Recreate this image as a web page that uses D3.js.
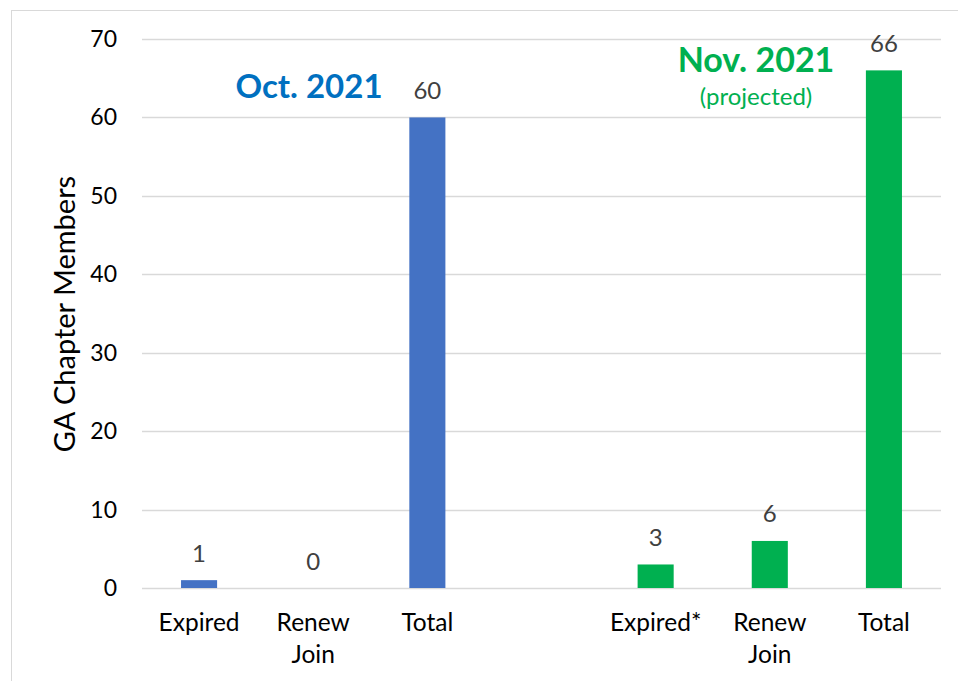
<!DOCTYPE html>
<html>
<head>
<meta charset="utf-8">
<script src="https://cdn.jsdelivr.net/npm/d3@7"></script>
<style>
  html, body { margin: 0; padding: 0; background: #ffffff; }
  svg { display: block; font-family: Lato, "Open Sans", sans-serif; }
</style>
</head>
<body>
<svg id="chart" width="958" height="681"></svg>
<script>
// ---------------------------------------------------------
// GA Chapter Members — Oct. 2021 vs Nov. 2021 (projected)
// ---------------------------------------------------------

// slot keys (one empty slot separates the two months)
const slots      = ["octExp", "octRen", "octTot", "gap", "novExp", "novRen", "novTot"];
const slotLabels = [["Expired"], ["Renew", "Join"], ["Total"], [], ["Expired*"], ["Renew", "Join"], ["Total"]];

const octValues = [1, 0, 60];
const novValues = [3, 6, 66];

const yTicks = [0, 10, 20, 30, 40, 50, 60, 70];

const BLUE  = "#4472c4";
const GREEN = "#00b050";

const bars = [
  ...octValues.map((v, i) => ({ key: slots[i],     value: v, color: BLUE })),
  ...novValues.map((v, i) => ({ key: slots[i + 4], value: v, color: GREEN }))
];

const svg = d3.select("#chart");

// frame
svg.append("rect")
  .attr("x", 11.5).attr("y", 10.5)
  .attr("width", 960).attr("height", 700)
  .attr("fill", "none")
  .attr("stroke", "#d9d9d9")
  .attr("stroke-width", 1);

// -------------------------------------------------------
// SCALES
// -------------------------------------------------------
const x = d3.scaleBand()
  .domain(slots)
  .range([142, 941])
  .paddingInner(0.684)
  .paddingOuter(0.342);

const y = d3.scaleLinear()
  .domain([0, 70])
  .range([588, 39]);

// gridlines
svg.append("g")
  .selectAll("line")
  .data(yTicks)
  .join("line")
  .attr("x1", 142).attr("x2", 941)
  .attr("y1", d => Math.round(y(d)) + 0.5)
  .attr("y2", d => Math.round(y(d)) + 0.5)
  .attr("stroke", "#d9d9d9")
  .attr("stroke-width", 1.5);

// y tick labels
svg.append("g")
  .selectAll("text")
  .data(yTicks)
  .join("text")
  .attr("x", 117)
  .attr("y", d => y(d))
  .attr("dy", "0.35em")
  .attr("text-anchor", "end")
  .style("font-size", "23px")
  .style("fill", "#000")
  .text(d => d);

// y axis title
svg.append("text")
  .attr("transform", "translate(75,314) rotate(-90)")
  .attr("text-anchor", "middle")
  .style("font-size", "29px")
  .style("fill", "#000")
  .text("GA Chapter Members");

// -------------------------------------------------------
// BARS + VALUE LABELS
// -------------------------------------------------------
svg.append("g")
  .selectAll("rect")
  .data(bars)
  .join("rect")
  .attr("x", d => x(d.key))
  .attr("width", x.bandwidth())
  .attr("y", d => y(d.value))
  .attr("height", d => y(0) - y(d.value))
  .attr("fill", d => d.color);

svg.append("g")
  .selectAll("text")
  .data(bars)
  .join("text")
  .attr("x", d => x(d.key) + x.bandwidth() / 2)
  .attr("y", d => y(d.value) - 18.5)
  .attr("text-anchor", "middle")
  .style("font-size", "24px")
  .style("fill", "#404040")
  .text(d => d.value);

// category labels
const cat = svg.append("g")
  .selectAll("text")
  .data(slots.map((s, i) => ({ key: s, lines: slotLabels[i] })))
  .join("text")
  .attr("text-anchor", "middle")
  .style("font-size", "24.5px")
  .style("fill", "#000");

cat.selectAll("tspan")
  .data(d => d.lines.map((t, j) => ({ t, j, key: d.key })))
  .join("tspan")
  .attr("x", d => x(d.key) + x.bandwidth() / 2)
  .attr("y", d => 631 + d.j * 32)
  .text(d => d.t);

// -------------------------------------------------------
// MONTH HEADINGS
// -------------------------------------------------------
svg.append("text")
  .attr("x", 309).attr("y", 98)
  .attr("text-anchor", "middle")
  .style("font-size", "33px")
  .style("font-weight", "bold")
  .style("fill", "#0070c0")
  .text("Oct. 2021");

svg.append("text")
  .attr("x", 756).attr("y", 72)
  .attr("text-anchor", "middle")
  .style("font-size", "34px")
  .style("font-weight", "bold")
  .style("fill", GREEN)
  .text("Nov. 2021");

svg.append("text")
  .attr("x", 756).attr("y", 105)
  .attr("text-anchor", "middle")
  .style("font-size", "24px")
  .style("fill", GREEN)
  .text("(projected)");
</script>
</body>
</html>
